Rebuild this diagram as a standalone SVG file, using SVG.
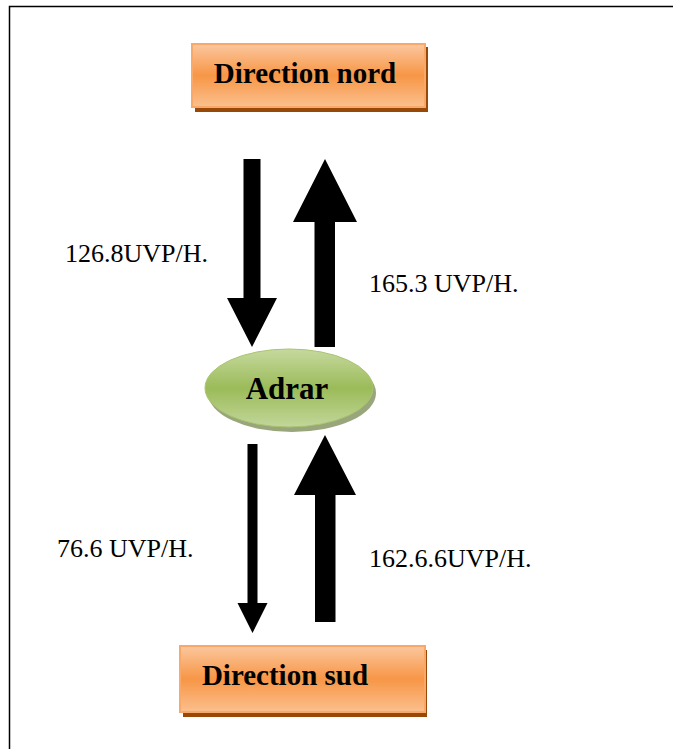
<svg xmlns="http://www.w3.org/2000/svg" width="673" height="749" viewBox="0 0 673 749">
<defs>
<linearGradient id="og" x1="0" y1="0" x2="0" y2="1">
<stop offset="0" stop-color="#FBC79E"/>
<stop offset="0.5" stop-color="#F79646"/>
<stop offset="1" stop-color="#FBC08E"/>
</linearGradient>
<linearGradient id="gg" x1="0" y1="0" x2="0" y2="1">
<stop offset="0" stop-color="#C6D99F"/>
<stop offset="0.5" stop-color="#9BBB59"/>
<stop offset="1" stop-color="#C2D69A"/>
</linearGradient>
</defs>
<style>
.box{fill:url(#og);stroke:#F9A86A;stroke-width:2}
.shadow{fill:#984807}
.title{font-weight:bold;fill:#000}
.lbl{font-size:26px;fill:#000}
.arr{fill:#000}
</style>
<rect x="9.5" y="6.5" width="700" height="800" fill="#fff" stroke="#000" stroke-width="1.5"/>
<g id="nord">
<rect class="shadow" x="195" y="47" width="233" height="65"/>
<rect class="box" x="192" y="44" width="233" height="63"/>
<text class="title" font-family="'Liberation Serif', 'DejaVu Serif', serif" x="305" y="83" font-size="29" text-anchor="middle">Direction nord</text>
</g>
<g id="adrar">
<ellipse cx="292" cy="393" rx="84" ry="39" fill="#7F8F5A" opacity="0.8"/>
<ellipse cx="289" cy="388" rx="84" ry="39" fill="url(#gg)" stroke="#A9C46E" stroke-width="1"/>
<text class="title" font-family="'Liberation Serif', 'DejaVu Serif', serif" x="287" y="399" font-size="31" text-anchor="middle">Adrar</text>
</g>
<g id="sud">
<rect class="shadow" x="183" y="650" width="244" height="67"/>
<rect class="box" x="180" y="646" width="245" height="66"/>
<text class="title" font-family="'Liberation Serif', 'DejaVu Serif', serif" x="285" y="685" font-size="29" text-anchor="middle">Direction sud</text>
</g>
<g id="connectors">
<polygon class="arr" points="243.5,159 260.5,159 260.5,298 277,298 252,347 227,298 243.5,298"/>
<polygon class="arr" points="314.5,347 335,347 335,222 357,222 325,159 293,222 314.5,222"/>
<polygon class="arr" points="247.5,444 257.5,444 257.5,603 267.5,603 252.5,633 237.5,603 247.5,603"/>
<polygon class="arr" points="315,622 335.5,622 335.5,495 356,495 325,435 294,495 315,495"/>
</g>
<text class="lbl" font-family="'Liberation Serif', 'DejaVu Serif', serif" x="65" y="262">126.8UVP/H.</text>
<text class="lbl" font-family="'Liberation Serif', 'DejaVu Serif', serif" x="369" y="292">165.3 UVP/H.</text>
<text class="lbl" font-family="'Liberation Serif', 'DejaVu Serif', serif" x="57" y="557">76.6 UVP/H.</text>
<text class="lbl" font-family="'Liberation Serif', 'DejaVu Serif', serif" x="369" y="567">162.6.6UVP/H.</text>
</svg>
